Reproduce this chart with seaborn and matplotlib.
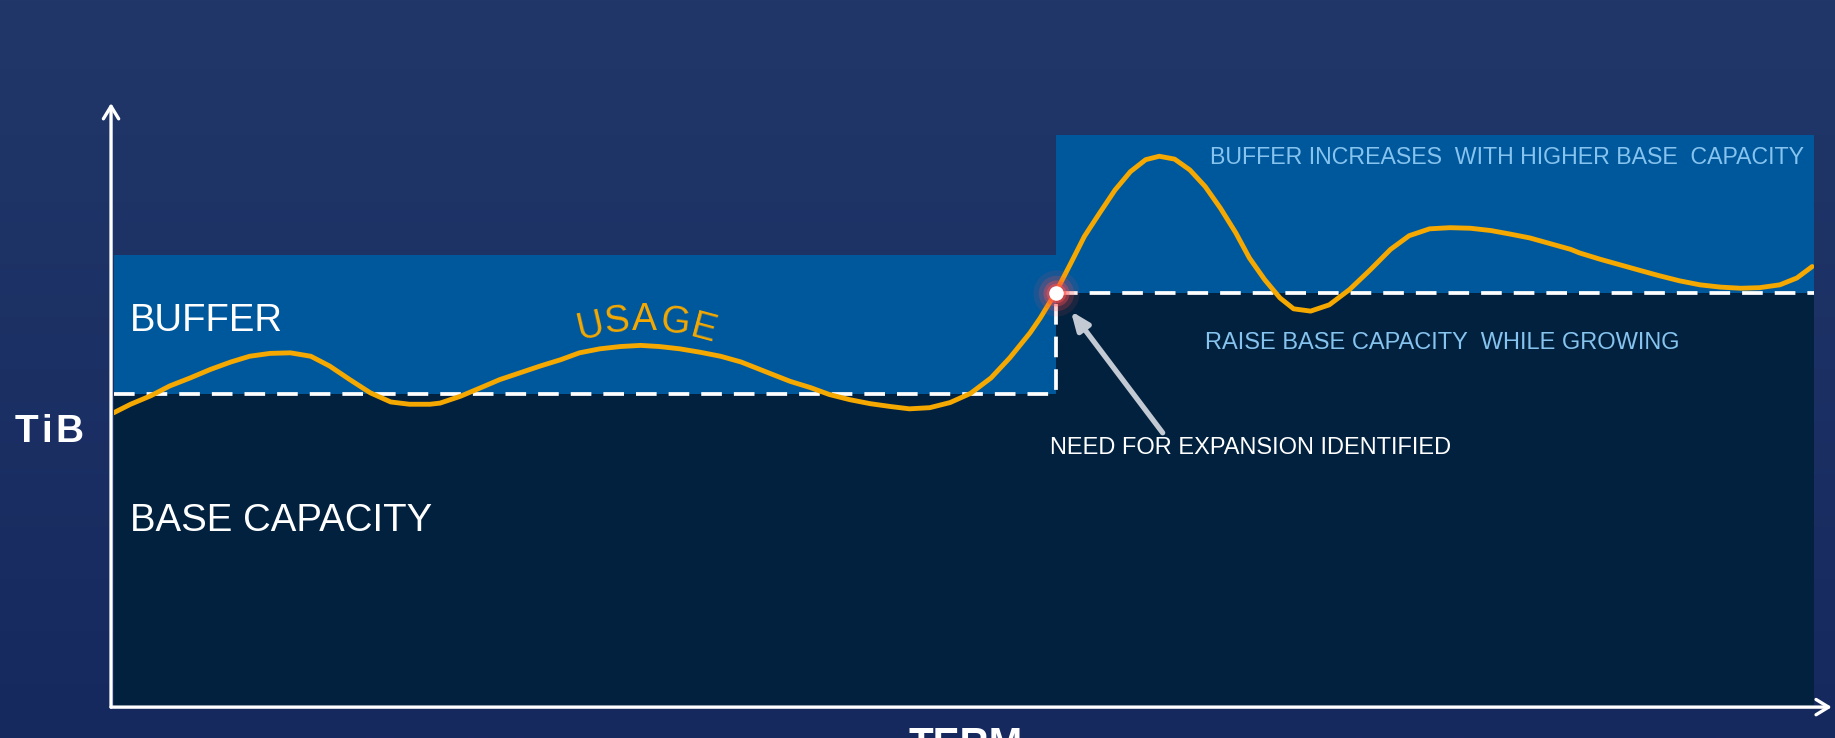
import numpy as np
import matplotlib
matplotlib.use("Agg")
import matplotlib.pyplot as plt
import seaborn as sns
import pandas as pd
from matplotlib.colors import LinearSegmentedColormap

# usage curve (term vs TiB, arbitrary units 0..100)
term = [0.0, 1.0, 2.2, 3.3, 4.5, 5.7, 6.9, 8.0, 9.2, 10.4,
        11.6, 12.7, 13.9, 15.1, 16.3, 17.4, 18.6, 19.2, 20.4, 21.6,
        22.7, 23.9, 25.1, 26.3, 27.4, 28.6, 29.8, 31.0, 32.1, 33.3,
        34.5, 35.7, 36.9, 38.6, 39.8, 41.0, 42.1, 43.3, 44.5, 45.7,
        46.8, 48.0, 49.2, 50.4, 51.6, 52.7, 53.9, 54.5, 55.4, 56.3,
        57.1, 58.0, 58.9, 59.8, 60.7, 61.5, 62.4, 63.3, 64.2, 65.1,
        66.0, 66.8, 67.7, 68.6, 69.4, 70.4, 71.5, 72.7, 73.9, 75.1,
        76.2, 77.4, 78.6, 79.8, 81.0, 82.1, 83.3, 84.5, 85.7, 86.2,
        87.4, 88.6, 89.8, 90.9, 92.1, 93.3, 94.5, 95.7, 96.8, 98.0,
        99.0, 99.9]
usage = [51.3, 52.8, 54.3, 56.0, 57.4, 58.9, 60.2, 61.2, 61.7, 61.8,
         61.2, 59.5, 57.1, 54.8, 53.2, 52.8, 52.8, 53.0, 54.2, 55.7,
         57.1, 58.3, 59.5, 60.6, 61.8, 62.5, 62.9, 63.1, 62.9, 62.5,
         61.9, 61.2, 60.2, 58.2, 56.8, 55.7, 54.5, 53.6, 52.9, 52.4,
         52.0, 52.2, 53.1, 54.7, 57.4, 60.9, 65.3, 67.9, 72.3, 77.5,
         82.2, 86.3, 90.3, 93.5, 95.6, 96.2, 95.7, 93.8, 90.9, 87.1,
         82.8, 78.4, 74.6, 71.4, 69.5, 69.1, 70.2, 72.9, 76.3, 79.9,
         82.3, 83.5, 83.7, 83.6, 83.2, 82.6, 81.9, 80.9, 79.9, 79.3,
         78.2, 77.2, 76.2, 75.3, 74.4, 73.7, 73.3, 73.1, 73.2, 73.7,
         74.9, 76.9]

# capacity steps
step_term = [0.0, 55.4, 100.0]
base_capacity = [54.6, 72.3, 72.3]
buffer_top = [78.9, 100.0, 100.0]
expansion_term = 55.4
expansion_level = 72.3

BG_TOP = "#213769"
BG_BOT = "#16295f"
BUFFER_C = "#00589c"
BASE_C = "#01213f"
USAGE_C = "#f5a800"
NOTE_C = "#86c3ee"

sns.set_style("white")
plt.rcParams["font.family"] = ["Liberation Sans", "DejaVu Sans"]

fig = plt.figure(figsize=(18.35, 7.38), dpi=100)

# background gradient
bg = fig.add_axes([0, 0, 1, 1], zorder=-1)
grad = np.linspace(0, 1, 256).reshape(-1, 1)
bg.imshow(grad, aspect="auto", extent=[0, 1, 0, 1],
          cmap=LinearSegmentedColormap.from_list("bg", [BG_TOP, BG_BOT]))
bg.axis("off")

ax = fig.add_axes([0.0619, 0.0434, 0.9266, 0.7743])
ax.set_facecolor("none")

ax.fill_between(step_term, 0, base_capacity, step="post", color=BASE_C, lw=0, zorder=1)
ax.fill_between(step_term, base_capacity, buffer_top, step="post", color=BUFFER_C, lw=0, zorder=1)

ax.step(step_term, base_capacity, where="post", color="white", lw=2.7,
        dashes=(5.5, 3.2), zorder=2)

df = pd.DataFrame({"term": term, "usage": usage})
sns.lineplot(data=df, x="term", y="usage", color=USAGE_C, lw=3.5, ax=ax, zorder=3,
             solid_joinstyle="round", solid_capstyle="round")

# glowing marker where expansion is identified
for s, a in [(1100, 0.10), (650, 0.2), (350, 0.35), (200, 0.5)]:
    ax.scatter([expansion_term], [expansion_level], s=s, color="#ff4d4d",
               alpha=a, lw=0, zorder=4)
ax.scatter([expansion_term], [expansion_level], s=110, color="white", lw=0, zorder=5)

ax.annotate("", xy=(56.3, 69.1), xytext=(61.7, 47.8),
            arrowprops=dict(arrowstyle="-|>,head_length=1.1,head_width=0.45",
                            color="#c3cad4", lw=3.8, shrinkA=0, shrinkB=0), zorder=4)

ax.set_xlim(0, 100)
ax.set_ylim(0, 100)
ax.set_xticks([])
ax.set_yticks([])
ax.set_xlabel("")
ax.set_ylabel("")
for sp in ax.spines.values():
    sp.set_visible(False)

# axis arrows
ax.annotate("", xy=(-0.0015, 1.055), xytext=(-0.0015, -0.002), xycoords="axes fraction",
            arrowprops=dict(arrowstyle="->,head_length=0.9,head_width=0.55",
                            color="white", lw=2.4, shrinkA=0, shrinkB=0),
            annotation_clip=False)
ax.annotate("", xy=(1.0105, -0.002), xytext=(-0.0015, -0.002), xycoords="axes fraction",
            arrowprops=dict(arrowstyle="->,head_length=0.9,head_width=0.55",
                            color="white", lw=2.4, shrinkA=0, shrinkB=0),
            annotation_clip=False)

# labels
ax.text(0.94, 67.3, "BUFFER", color="white", fontsize=27.5, va="center", ha="left", zorder=6)
ax.text(0.94, 32.4, "BASE CAPACITY", color="white", fontsize=27.6, va="center", ha="left", zorder=6)

usage_letters = ["U", "S", "A", "G", "E"]
letter_x = [28.0, 29.6, 31.2, 33.0, 34.7]
letter_y = [66.2, 67.2, 67.6, 67.1, 65.8]
letter_rot = [13, 6, 0, -7, -15]
for ch, lx, ly, r in zip(usage_letters, letter_x, letter_y, letter_rot):
    ax.text(lx, ly, ch, color=USAGE_C, fontsize=27, rotation=r,
            ha="center", va="center", rotation_mode="anchor", zorder=6)

ax.text(99.4, 96.0, "BUFFER INCREASES  WITH HIGHER BASE  CAPACITY", color=NOTE_C,
        fontsize=16.7, ha="right", va="center", zorder=6)
ax.text(64.2, 63.6, "RAISE BASE CAPACITY  WHILE GROWING", color=NOTE_C,
        fontsize=17.0, ha="left", va="center", zorder=6)
ax.text(55.06, 45.2, "NEED FOR EXPANSION IDENTIFIED", color="white",
        fontsize=17, ha="left", va="center", zorder=6)

fig.text(0.0272, 0.4146, "T\u200ai\u200aB", color="white", fontsize=28, fontweight="bold",
         ha="center", va="center")
fig.text(0.526, 0.0163, "TERM", color="white", fontsize=29, fontweight="bold",
         ha="center", va="top")

fig.savefig("out.png", dpi=100)
